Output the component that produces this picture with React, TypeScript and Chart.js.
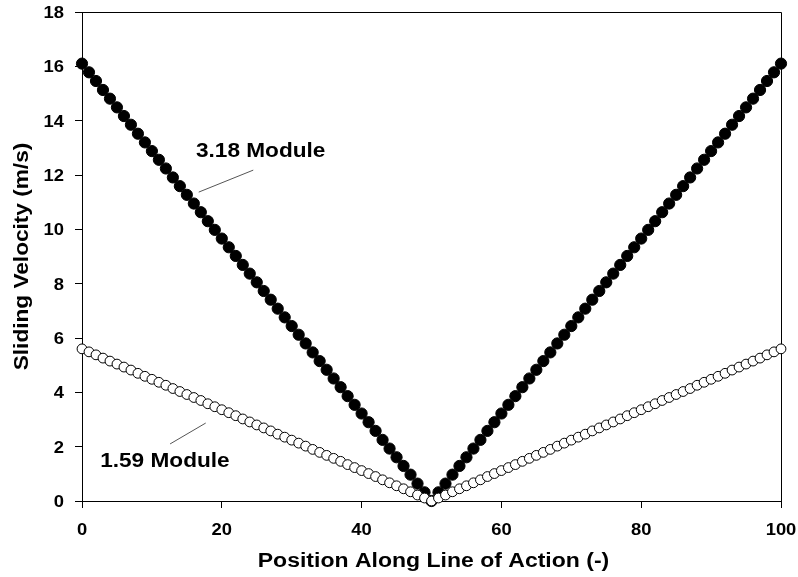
import React, { useEffect, useRef } from "react";
import { Chart, registerables } from "chart.js";

Chart.register(...registerables);

// ---- data ----
const positions = [
  0, 1, 2, 3, 4, 5, 6, 7, 8, 9, 10, 11, 12, 13, 14, 15, 16, 17, 18, 19, 20,
  21, 22, 23, 24, 25, 26, 27, 28, 29, 30, 31, 32, 33, 34, 35, 36, 37, 38, 39, 40,
  41, 42, 43, 44, 45, 46, 47, 48, 49, 50, 51, 52, 53, 54, 55, 56, 57, 58, 59, 60,
  61, 62, 63, 64, 65, 66, 67, 68, 69, 70, 71, 72, 73, 74, 75, 76, 77, 78, 79, 80,
  81, 82, 83, 84, 85, 86, 87, 88, 89, 90, 91, 92, 93, 94, 95, 96, 97, 98, 99, 100,
];

const module318 = [
  16.1, 15.78, 15.46, 15.13, 14.81, 14.49, 14.17, 13.85, 13.52, 13.2,
  12.88, 12.56, 12.24, 11.91, 11.59, 11.27, 10.95, 10.63, 10.3, 9.98,
  9.66, 9.34, 9.02, 8.69, 8.37, 8.05, 7.73, 7.41, 7.08, 6.76,
  6.44, 6.12, 5.8, 5.47, 5.15, 4.83, 4.51, 4.19, 3.86, 3.54,
  3.22, 2.9, 2.58, 2.25, 1.93, 1.61, 1.29, 0.97, 0.64, 0.32,
  0.0,
  0.32, 0.64, 0.97, 1.29, 1.61, 1.93, 2.25, 2.58, 2.9, 3.22,
  3.54, 3.86, 4.19, 4.51, 4.83, 5.15, 5.47, 5.8, 6.12, 6.44,
  6.76, 7.08, 7.41, 7.73, 8.05, 8.37, 8.69, 9.02, 9.34, 9.66,
  9.98, 10.3, 10.63, 10.95, 11.27, 11.59, 11.91, 12.24, 12.56, 12.88,
  13.2, 13.52, 13.85, 14.17, 14.49, 14.81, 15.13, 15.46, 15.78, 16.1,
];

const module159 = [
  5.6, 5.49, 5.38, 5.26, 5.15, 5.04, 4.93, 4.82, 4.7, 4.59,
  4.48, 4.37, 4.26, 4.14, 4.03, 3.92, 3.81, 3.7, 3.58, 3.47,
  3.36, 3.25, 3.14, 3.02, 2.91, 2.8, 2.69, 2.58, 2.46, 2.35,
  2.24, 2.13, 2.02, 1.9, 1.79, 1.68, 1.57, 1.46, 1.34, 1.23,
  1.12, 1.01, 0.9, 0.78, 0.67, 0.56, 0.45, 0.34, 0.22, 0.11,
  0.0,
  0.11, 0.22, 0.34, 0.45, 0.56, 0.67, 0.78, 0.9, 1.01, 1.12,
  1.23, 1.34, 1.46, 1.57, 1.68, 1.79, 1.9, 2.02, 2.13, 2.24,
  2.35, 2.46, 2.58, 2.69, 2.8, 2.91, 3.02, 3.14, 3.25, 3.36,
  3.47, 3.58, 3.7, 3.81, 3.92, 4.03, 4.14, 4.26, 4.37, 4.48,
  4.59, 4.7, 4.82, 4.93, 5.04, 5.15, 5.26, 5.38, 5.49, 5.6,
];

const xTickValues = [0, 20, 40, 60, 80, 100];
const yTickValues = [0, 2, 4, 6, 8, 10, 12, 14, 16, 18];

const xTitle = "Position Along Line of Action (-)";
const yTitle = "Sliding Velocity (m/s)";

// annotations (data coordinates)
const annotationLabels = ["3.18 Module", "1.59 Module"];
const annotationTextX = [16.3, 2.6];
const annotationTextY = [12.66, 1.25];
const leaderFromX = [16.7, 12.6];
const leaderFromY = [11.37, 2.1];
const leaderToX = [24.5, 17.7];
const leaderToY = [12.18, 2.87];

const FONT_FAMILY = "'Liberation Sans', Arial, sans-serif";

function drawStretched(
  ctx: CanvasRenderingContext2D,
  text: string,
  x: number,
  y: number,
  align: "left" | "center" | "right",
  stretch: number
) {
  ctx.save();
  ctx.translate(x, y);
  ctx.scale(stretch, 1);
  ctx.textAlign = align;
  ctx.textBaseline = "alphabetic";
  ctx.fillText(text, 0, 0);
  ctx.restore();
}

const decorPlugin = {
  id: "decor",
  beforeDatasetsDraw(chart: any) {
    const { ctx, chartArea } = chart;
    ctx.save();
    ctx.strokeStyle = "#000";
    ctx.lineWidth = 1;
    ctx.beginPath();
    const l = Math.round(chartArea.left) + 0.5;
    const r = Math.round(chartArea.right) + 0.5;
    const t = Math.round(chartArea.top) + 0.5;
    const b = Math.round(chartArea.bottom) + 0.5;
    ctx.moveTo(l, t);
    ctx.lineTo(r, t);
    ctx.lineTo(r, b);
    ctx.stroke();
    ctx.restore();
  },
  afterDraw(chart: any) {
    const { ctx, chartArea, scales } = chart;
    const xs = scales.x;
    const ys = scales.y;
    ctx.save();
    ctx.fillStyle = "#000";

    // tick labels
    ctx.font = `bold 16.3px ${FONT_FAMILY}`;
    for (const v of yTickValues) {
      drawStretched(ctx, String(v), chartArea.left - 18, ys.getPixelForValue(v) + 5.9, "right", 1.13);
    }
    for (const v of xTickValues) {
      drawStretched(ctx, String(v), xs.getPixelForValue(v), chartArea.bottom + 34, "center", 1.13);
    }

    ctx.font = `bold 19.5px ${FONT_FAMILY}`;
    // axis titles
    drawStretched(ctx, xTitle, (chartArea.left + chartArea.right) / 2 + 2, chart.height - 10, "center", 1.18);
    ctx.save();
    ctx.translate(28, (chartArea.top + chartArea.bottom) / 2);
    ctx.rotate(-Math.PI / 2);
    drawStretched(ctx, yTitle, 0, 0, "center", 1.16);
    ctx.restore();

    // annotations
    for (let i = 0; i < annotationLabels.length; i++) {
      drawStretched(
        ctx,
        annotationLabels[i],
        xs.getPixelForValue(annotationTextX[i]),
        ys.getPixelForValue(annotationTextY[i]),
        "left",
        1.16
      );
      ctx.strokeStyle = "#555";
      ctx.lineWidth = 1;
      ctx.beginPath();
      ctx.moveTo(xs.getPixelForValue(leaderFromX[i]), ys.getPixelForValue(leaderFromY[i]));
      ctx.lineTo(xs.getPixelForValue(leaderToX[i]), ys.getPixelForValue(leaderToY[i]));
      ctx.stroke();
    }
    ctx.restore();
  },
};

export default function App() {
  const canvasRef = useRef<HTMLCanvasElement | null>(null);

  useEffect(() => {
    const canvas = canvasRef.current;
    if (!canvas) return;
    const chart = new Chart(canvas, {
      type: "scatter",
      data: {
        datasets: [
          {
            label: "1.59 Module",
            data: positions.map((x, i) => ({ x, y: module159[i] })),
            showLine: false,
            pointRadius: 4.9,
            pointBackgroundColor: "#ffffff",
            pointBorderColor: "#000000",
            pointBorderWidth: 1,
            clip: false,
          } as any,
          {
            label: "3.18 Module",
            data: positions.map((x, i) => ({ x, y: module318[i] })),
            showLine: false,
            pointRadius: 5.6,
            pointBackgroundColor: "#000000",
            pointBorderColor: "#000000",
            pointBorderWidth: 1,
            clip: false,
          } as any,
        ],
      },
      options: {
        responsive: false,
        animation: false,
        events: [],
        layout: { padding: { top: 12, right: 17, left: 0, bottom: 0 } },
        plugins: {
          legend: { display: false },
          tooltip: { enabled: false },
          title: { display: false },
        },
        scales: {
          x: {
            type: "linear",
            min: 0,
            max: 100,
            afterBuildTicks: (scale: any) => {
              scale.ticks = xTickValues.map((v) => ({ value: v }));
            },
            afterFit: (scale: any) => {
              scale.height = 76;
            },
            grid: {
              drawOnChartArea: false,
              drawTicks: true,
              tickLength: 7,
              color: "#000",
              lineWidth: 1,
            },
            border: { display: true, color: "#000", width: 1 },
            ticks: { display: false },
          },
          y: {
            type: "linear",
            min: 0,
            max: 18,
            afterBuildTicks: (scale: any) => {
              scale.ticks = yTickValues.map((v) => ({ value: v }));
            },
            afterFit: (scale: any) => {
              scale.width = 82;
            },
            grid: {
              drawOnChartArea: false,
              drawTicks: true,
              tickLength: 7,
              color: "#000",
              lineWidth: 1,
            },
            border: { display: true, color: "#000", width: 1 },
            ticks: { display: false },
          },
        },
      },
      plugins: [decorPlugin],
    });
    return () => chart.destroy();
  }, []);

  return (
    <div style={{ position: "fixed", left: 0, top: 0, width: 798, height: 577, background: "#fff" }}>
      <canvas ref={canvasRef} width={798} height={577} style={{ display: "block" }} />
    </div>
  );
}
